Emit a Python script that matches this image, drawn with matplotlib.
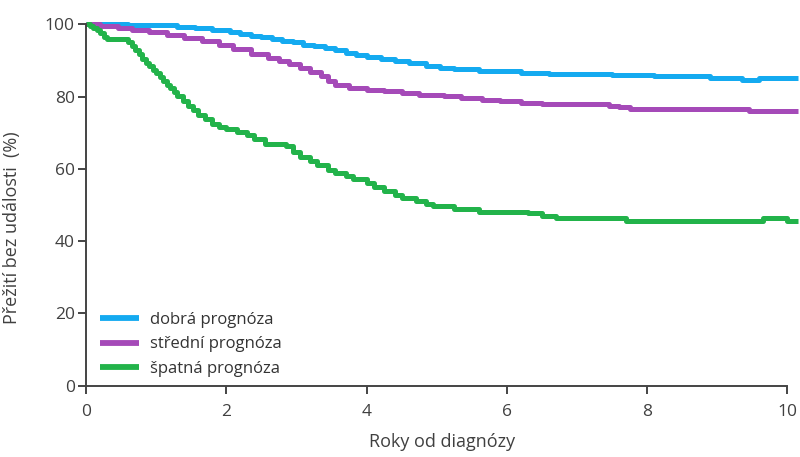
import matplotlib
matplotlib.use("Agg")
import matplotlib.pyplot as plt

#-----------------data----------------
# time in years, survival in % (step curves, value holds until next time)
t_dobra = [0, 0.6, 1.3, 1.55, 1.8, 2.05, 2.2, 2.35, 2.5, 2.65, 2.8, 2.95, 3.1, 3.25, 3.4, 3.55,
           3.7, 3.85, 4.0, 4.2, 4.4, 4.6, 4.85, 5.05, 5.25, 5.6, 5.9, 6.2, 6.6, 7.5, 8.1, 8.9,
           9.35, 9.6, 10.15]
s_dobra = [100, 99.7, 99.2, 98.9, 98.5, 97.9, 97.4, 96.9, 96.4, 96.0, 95.5, 95.0, 94.4, 93.9, 93.4, 92.8,
           92.2, 91.6, 91.0, 90.4, 89.8, 89.3, 88.6, 88.0, 87.5, 87.2, 87.0, 86.5, 86.2, 85.9, 85.6, 85.2,
           84.7, 85.2, 85.2]

t_stredni = [0, 0.2, 0.45, 0.65, 0.9, 1.15, 1.4, 1.65, 1.9, 2.1, 2.35, 2.6, 2.75, 2.9, 3.05, 3.2,
             3.35, 3.45, 3.55, 3.75, 4.0, 4.25, 4.5, 4.75, 5.1, 5.35, 5.65, 5.9, 6.2, 6.5, 7.45,
             7.6, 7.75, 9.45, 10.15]
s_stredni = [100, 99.4, 98.9, 98.5, 97.8, 97.0, 96.2, 95.3, 94.2, 93.1, 91.9, 90.7, 89.8, 88.9, 87.9, 86.8,
             85.6, 84.3, 83.3, 82.5, 81.9, 81.5, 81.1, 80.5, 80.1, 79.6, 79.1, 78.7, 78.3, 78.0, 77.5,
             77.0, 76.6, 76.1, 76.1]

t_spatna = [0, 0.05, 0.1, 0.15, 0.2, 0.25, 0.3, 0.6, 0.65, 0.7, 0.75, 0.8, 0.85, 0.9, 0.95, 1.0,
            1.05, 1.1, 1.15, 1.2, 1.25, 1.3, 1.38, 1.45, 1.53, 1.6, 1.7, 1.8, 1.9, 2.0, 2.15,
            2.3, 2.4, 2.55, 2.85, 2.95, 3.05, 3.2, 3.3, 3.45, 3.55, 3.7, 3.8, 4.0, 4.1, 4.25,
            4.4, 4.5, 4.7, 4.85, 4.95, 5.25, 5.6, 6.3, 6.5, 6.7, 7.7, 9.65, 10.0, 10.15]
s_spatna = [100, 99.5, 99.0, 98.3, 97.5, 96.6, 95.8, 95.0, 94.0, 92.8, 91.7, 90.5, 89.4, 88.4, 87.4, 86.5,
            85.4, 84.2, 83.2, 82.3, 81.2, 80.1, 78.8, 77.5, 76.2, 75.0, 73.7, 72.5, 71.7, 71.0, 70.3,
            69.5, 68.2, 66.8, 66.2, 64.7, 63.2, 62.1, 61.0, 59.8, 58.8, 58.0, 57.3, 56.1, 55.0, 53.8,
            52.9, 52.0, 51.2, 50.4, 49.6, 48.8, 48.2, 47.7, 47.0, 46.4, 45.5, 46.4, 45.5, 45.5]

labels = ["dobrá prognóza", "střední prognóza", "špatná prognóza"]
colors = ["#14aaf0", "#a54ab8", "#22b34a"]
x_ticks = [0, 2, 4, 6, 8, 10]
y_ticks = [0, 20, 40, 60, 80, 100]
#-----------------------------------------------------------

plt.rcParams['font.family'] = ['Open Sans', 'DejaVu Sans']
txt = "#404040"

fig = plt.figure(figsize=(8, 4.57), dpi=100)
ax = fig.add_axes([0.1075, 0.156, 0.89, 0.7908])

for t, s, lab, c in zip([t_dobra, t_stredni, t_spatna], [s_dobra, s_stredni, s_spatna], labels, colors):
    ax.step(t, s, where='post', color=c, lw=3.6, label=lab, clip_on=False, solid_capstyle='butt')

ax.set_xlim(0, 10.15)
ax.set_ylim(0, 100)
ax.spines['top'].set_visible(False)
ax.spines['right'].set_visible(False)
ax.spines['bottom'].set_bounds(0, 10)
for sp in ['left', 'bottom']:
    ax.spines[sp].set_linewidth(1.4)
    ax.spines[sp].set_color("#444444")
ax.set_xticks(x_ticks)
ax.set_yticks(y_ticks)
ax.tick_params(direction='out', length=6, width=1.4, color="#444444", labelcolor=txt, labelsize=12.5)
ax.tick_params(axis='x', pad=7)
ax.tick_params(axis='y', pad=2)

ax.set_xlabel("Roky od diagnózy", fontsize=13, color=txt)
ax.set_ylabel("Přežití bez události  (%)", fontsize=13, color=txt)
ax.xaxis.set_label_coords(0.5, -0.13)
ax.yaxis.set_label_coords(-0.091, 0.436)

leg = ax.legend(loc='lower left', bbox_to_anchor=(0.02, 0.025), frameon=False, fontsize=12,
                handlelength=2.3, handletextpad=0.7, labelspacing=0.5, borderpad=0, borderaxespad=0)
for line in leg.get_lines():
    line.set_linewidth(4.2)
for tx in leg.get_texts():
    tx.set_color("#333333")

fig.savefig("out.png", dpi=100)
